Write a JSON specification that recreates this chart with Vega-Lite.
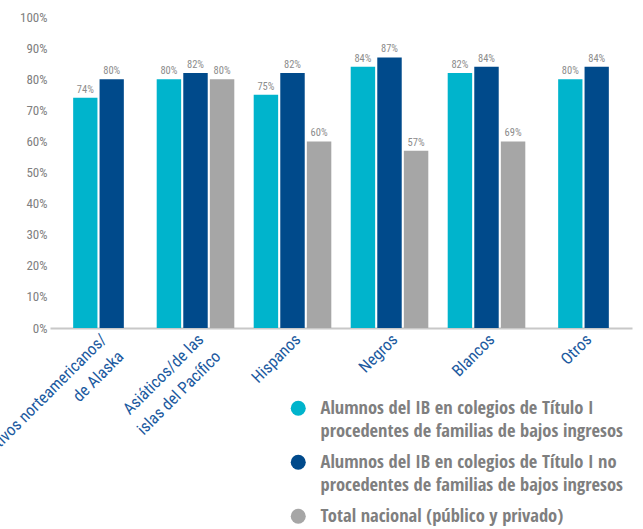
{
  "$schema": "https://vega.github.io/schema/vega-lite/v6.json",
  "autosize": {"type": "none"},
  "width": 582,
  "height": 311,
  "padding": {"left": 50, "top": 17, "right": 11, "bottom": 201},
  "background": "white",
  "config": {
    "view": {"stroke": null},
    "font": "Roboto Condensed"
  },
  "data": {
    "values": [
      {"grupo": "Nativos norteamericanos/de Alaska", "serie": "Alumnos del IB en colegios de Título I procedentes de familias de bajos ingresos", "valor": 0.74, "etiqueta": "74%", "n": 2},
      {"grupo": "Nativos norteamericanos/de Alaska", "serie": "Alumnos del IB en colegios de Título I no procedentes de familias de bajos ingresos", "valor": 0.80, "etiqueta": "80%", "n": 2},
      {"grupo": "Asiáticos/de las islas del Pacífico", "serie": "Alumnos del IB en colegios de Título I procedentes de familias de bajos ingresos", "valor": 0.80, "etiqueta": "80%", "n": 3},
      {"grupo": "Asiáticos/de las islas del Pacífico", "serie": "Alumnos del IB en colegios de Título I no procedentes de familias de bajos ingresos", "valor": 0.82, "etiqueta": "82%", "n": 3},
      {"grupo": "Asiáticos/de las islas del Pacífico", "serie": "Total nacional (público y privado)", "valor": 0.80, "etiqueta": "80%", "n": 3},
      {"grupo": "Hispanos", "serie": "Alumnos del IB en colegios de Título I procedentes de familias de bajos ingresos", "valor": 0.75, "etiqueta": "75%", "n": 3},
      {"grupo": "Hispanos", "serie": "Alumnos del IB en colegios de Título I no procedentes de familias de bajos ingresos", "valor": 0.82, "etiqueta": "82%", "n": 3},
      {"grupo": "Hispanos", "serie": "Total nacional (público y privado)", "valor": 0.60, "etiqueta": "60%", "n": 3},
      {"grupo": "Negros", "serie": "Alumnos del IB en colegios de Título I procedentes de familias de bajos ingresos", "valor": 0.84, "etiqueta": "84%", "n": 3},
      {"grupo": "Negros", "serie": "Alumnos del IB en colegios de Título I no procedentes de familias de bajos ingresos", "valor": 0.87, "etiqueta": "87%", "n": 3},
      {"grupo": "Negros", "serie": "Total nacional (público y privado)", "valor": 0.57, "etiqueta": "57%", "n": 3},
      {"grupo": "Blancos", "serie": "Alumnos del IB en colegios de Título I procedentes de familias de bajos ingresos", "valor": 0.82, "etiqueta": "82%", "n": 3},
      {"grupo": "Blancos", "serie": "Alumnos del IB en colegios de Título I no procedentes de familias de bajos ingresos", "valor": 0.84, "etiqueta": "84%", "n": 3},
      {"grupo": "Blancos", "serie": "Total nacional (público y privado)", "valor": 0.60, "etiqueta": "69%", "n": 3},
      {"grupo": "Otros", "serie": "Alumnos del IB en colegios de Título I procedentes de familias de bajos ingresos", "valor": 0.80, "etiqueta": "80%", "n": 2},
      {"grupo": "Otros", "serie": "Alumnos del IB en colegios de Título I no procedentes de familias de bajos ingresos", "valor": 0.84, "etiqueta": "84%", "n": 2}
    ]
  },
  "encoding": {
    "x": {
      "field": "grupo",
      "type": "nominal",
      "sort": ["Nativos norteamericanos/de Alaska", "Asiáticos/de las islas del Pacífico", "Hispanos", "Negros", "Blancos", "Otros"],
      "scale": {"paddingInner": 0.2, "paddingOuter": 0.1},
      "axis": {
        "title": null,
        "ticks": false,
        "domainColor": "#c8c8c8",
        "domainWidth": 2,
        "labelAngle": -45,
        "labelAlign": "right",
        "labelBaseline": "top",
        "labelFont": "Roboto Condensed",
        "labelFontSize": 16.5,
        "labelColor": "#1c5aa0",
        "labelPadding": 3,
        "labelLimit": 0,
        "labelLineHeight": 24,
        "labelExpr": "datum.label == 'Nativos norteamericanos/de Alaska' ? ['Nativos norteamericanos/', 'de Alaska'] : datum.label == 'Asiáticos/de las islas del Pacífico' ? ['Asiáticos/de las', 'islas del Pacífico'] : datum.label"
      }
    },
    "y": {
      "field": "valor",
      "type": "quantitative",
      "scale": {"domain": [0, 1]},
      "axis": {
        "title": null,
        "format": ".0%",
        "values": [0, 0.1, 0.2, 0.3, 0.4, 0.5, 0.6, 0.7, 0.8, 0.9, 1],
        "grid": false,
        "ticks": false,
        "domain": false,
        "labelFont": "Roboto Condensed",
        "labelFontSize": 13,
        "labelColor": "#808080",
        "labelPadding": 3
      }
    },
    "color": {
      "field": "serie",
      "type": "nominal",
      "scale": {
        "domain": [
          "Alumnos del IB en colegios de Título I procedentes de familias de bajos ingresos",
          "Alumnos del IB en colegios de Título I no procedentes de familias de bajos ingresos",
          "Total nacional (público y privado)"
        ],
        "range": ["#00b4cc", "#004a8b", "#a6a6a6"]
      },
      "legend": {
        "title": null,
        "orient": "none",
        "legendX": 239,
        "legendY": 382,
        "symbolType": "circle",
        "symbolSize": 225,
        "symbolStrokeWidth": 0,
        "labelFont": "Open Sans Condensed",
        "labelFontSize": 18.5,
        "labelFontWeight": "bold",
        "labelColor": "#7f7f7f",
        "labelLimit": 0,
        "labelBaseline": "alphabetic",
        "labelOffset": 13,
        "rowPadding": 12,
        "encoding": {"labels": {"lineHeight": {"value": 23}, "dy": {"value": 6}}},
        "labelExpr": "datum.label == 'Alumnos del IB en colegios de Título I procedentes de familias de bajos ingresos' ? ['Alumnos del IB en colegios de Título I', 'procedentes de familias de bajos ingresos'] : datum.label == 'Alumnos del IB en colegios de Título I no procedentes de familias de bajos ingresos' ? ['Alumnos del IB en colegios de Título I no', 'procedentes de familias de bajos ingresos'] : datum.label"
      }
    }
  },
  "layer": [
    {
      "transform": [{"filter": "datum.n == 3"}],
      "encoding": {
        "xOffset": {
          "field": "serie",
          "type": "nominal",
          "scale": {
            "domain": [
              "Alumnos del IB en colegios de Título I procedentes de familias de bajos ingresos",
              "Alumnos del IB en colegios de Título I no procedentes de familias de bajos ingresos",
              "Total nacional (público y privado)"
            ],
            "paddingInner": 0.08, "paddingOuter": 0
          }
        }
      },
      "layer": [
        {"mark": {"type": "bar"}},
        {"mark": {"type": "text", "dy": -3, "fontSize": 10.5, "baseline": "bottom"}, "encoding": {"text": {"field": "etiqueta"}, "color": {"value": "#8c8c8c"}}}
      ]
    },
    {
      "transform": [{"filter": "datum.n == 2"}],
      "encoding": {
        "xOffset": {
          "field": "serie",
          "type": "nominal",
          "scale": {
            "domain": [
              "Alumnos del IB en colegios de Título I procedentes de familias de bajos ingresos",
              "Alumnos del IB en colegios de Título I no procedentes de familias de bajos ingresos"
            ],
            "paddingInner": 0.08, "paddingOuter": 0.51
          }
        }
      },
      "layer": [
        {"mark": {"type": "bar"}},
        {"mark": {"type": "text", "dy": -3, "fontSize": 10.5, "baseline": "bottom"}, "encoding": {"text": {"field": "etiqueta"}, "color": {"value": "#8c8c8c"}}}
      ]
    }
  ],
  "resolve": {"scale": {"xOffset": "independent"}}
}
